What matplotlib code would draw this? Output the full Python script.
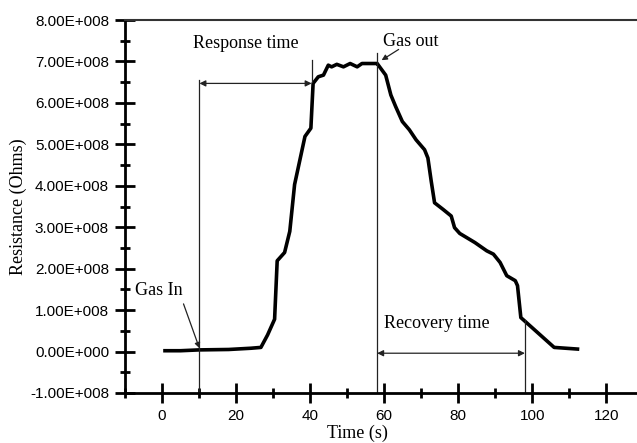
import matplotlib
matplotlib.use("Agg")
import matplotlib.pyplot as plt
from matplotlib.ticker import MultipleLocator, FuncFormatter

# Data (time in s, resistance in Ohms)
time_s = [0.8, 5, 10, 18, 24, 26.7, 28.5, 30.4, 31.1, 33.1, 34.5, 35.8,
          38.6, 40.2, 40.8, 42.2, 43.6, 44.9, 45.8, 47.2, 49.0, 50.8, 52.7,
          54.0, 57.7, 58.1, 60.4, 61.8, 63.1, 64.9, 66.8, 68.6, 70.9, 71.8,
          72.7, 73.6, 75.9, 78.1, 79.0, 80.4, 84.5, 87.7, 89.5, 91.3, 93.1,
          95.4, 96.0, 96.9, 105.9, 112.2]
resistance = [0.02e8, 0.02e8, 0.04e8, 0.05e8, 0.08e8, 0.1e8, 0.4e8, 0.78e8,
              2.19e8, 2.39e8, 2.9e8, 4.03e8, 5.19e8, 5.39e8, 6.47e8, 6.63e8,
              6.67e8, 6.91e8, 6.87e8, 6.93e8, 6.87e8, 6.95e8, 6.87e8, 6.95e8,
              6.95e8, 6.95e8, 6.67e8, 6.19e8, 5.91e8, 5.55e8, 5.35e8, 5.11e8,
              4.87e8, 4.67e8, 4.11e8, 3.59e8, 3.43e8, 3.27e8, 2.99e8, 2.85e8,
              2.63e8, 2.43e8, 2.35e8, 2.15e8, 1.83e8, 1.71e8, 1.59e8, 0.82e8,
              0.1e8, 0.06e8]

gas_in_t = 10.1
response_end_t = 40.4
gas_out_t = 58.1
recovery_end_t = 98.0

serif = ['Liberation Serif', 'DejaVu Serif']
sans = ['Liberation Sans', 'DejaVu Sans']

fig = plt.figure(figsize=(6.37, 4.43), dpi=100)
ax_w_px = 637 - 125 + 6.4
ax = fig.add_axes([125/637, 50/443, ax_w_px/637, (393-20)/443])

ax.plot(time_s, resistance, color='black', lw=2.6, solid_joinstyle='round')

ax.set_xlim(-10, 130)
ax.set_ylim(-1e8, 8e8)

# Marker lines
lc = '#222222'
ax.plot([gas_in_t, gas_in_t], [-1e8, 6.55e8], color=lc, lw=0.9)
ax.plot([response_end_t, response_end_t], [6.5e8, 7.04e8], color=lc, lw=0.9)
ax.plot([gas_out_t, gas_out_t], [-1e8, 7.2e8], color=lc, lw=0.9)
ax.plot([recovery_end_t, recovery_end_t], [-1e8, 0.75e8], color=lc, lw=0.9)

arrow_kw = dict(arrowstyle='<|-|>', color=lc, lw=0.9, mutation_scale=9,
                shrinkA=0, shrinkB=0)
ax.annotate('', xy=(gas_in_t, 6.47e8), xytext=(response_end_t, 6.47e8), arrowprops=arrow_kw)
ax.annotate('', xy=(gas_out_t, -0.04e8), xytext=(recovery_end_t, -0.04e8), arrowprops=arrow_kw)

ax.text(22.7, 7.43e8, 'Response time', family=serif, fontsize=13, ha='center', va='center')
ax.text(59.6, 7.48e8, 'Gas out', family=serif, fontsize=13, ha='left', va='center')
ax.annotate('', xy=(59.3, 7.03e8), xytext=(63.9, 7.29e8),
            arrowprops=dict(arrowstyle='-|>', color=lc, lw=0.9, mutation_scale=8,
                            shrinkA=0, shrinkB=0))
ax.text(-7.4, 1.47e8, 'Gas In', family=serif, fontsize=13, ha='left', va='center')
ax.annotate('', xy=(gas_in_t, 0.08e8), xytext=(5.8, 1.15e8),
            arrowprops=dict(arrowstyle='-|>', color=lc, lw=0.9, mutation_scale=8,
                            shrinkA=0, shrinkB=0))
ax.text(59.9, 0.67e8, 'Recovery time', family=serif, fontsize=13, ha='left', va='center')

# Axes styling
ax.spines['right'].set_visible(False)
ax.spines['left'].set_linewidth(2)
ax.spines['bottom'].set_linewidth(2)
ax.spines['top'].set_linewidth(1.5)
ax.spines['top'].set_color('#333333')

ax.xaxis.set_major_locator(MultipleLocator(20))
ax.xaxis.set_minor_locator(MultipleLocator(10))
ax.yaxis.set_major_locator(MultipleLocator(1e8))
ax.yaxis.set_minor_locator(MultipleLocator(0.5e8))
ax.tick_params(which='major', direction='inout', length=15, width=2, pad=4)
ax.tick_params(which='minor', direction='inout', length=7, width=2)
ax.tick_params(top=False, right=False, which='both')

def yfmt(v, pos):
    m = v / 1e8
    if abs(m) < 1e-9:
        return '0.00E+000'
    return f'{m:.2f}E+008'

ax.yaxis.set_major_formatter(FuncFormatter(yfmt))
for lab in ax.get_xticklabels() + ax.get_yticklabels():
    lab.set_family(sans)
    lab.set_fontsize(11)

ax.set_xlabel('Time (s)', family=serif, fontsize=13)
ax.set_ylabel('Resistance (Ohms)', family=serif, fontsize=13)
ax.xaxis.set_label_coords((357-125)/ax_w_px, -0.085)
ax.yaxis.set_label_coords(-(125-27)/ax_w_px, 0.5)

fig.savefig('out.png', dpi=100)
